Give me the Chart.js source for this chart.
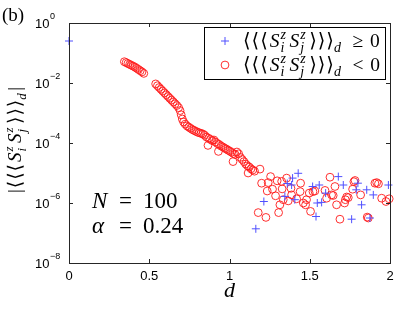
<!DOCTYPE html>
<html>
<head>
<meta charset="utf-8">
<script src="https://cdn.jsdelivr.net/npm/chart.js@4.4.0/dist/chart.umd.min.js"></script>
<style>
html, body { margin: 0; padding: 0; background: #fff; }
canvas { display: block; }
</style>
</head>
<body>
<canvas id="c" width="407" height="318"></canvas>
<script>
// data; the *Log arrays hold log10 of |<<<Sz Sz>>>_d|
const posD   = [0.000, 1.164, 1.214, 1.345, 1.360, 1.387, 1.393, 1.407, 1.428, 1.518, 1.539, 1.547,
                1.559, 1.574, 1.599, 1.678, 1.709, 1.761, 1.790, 1.800, 1.823, 1.855, 1.875, 1.896, 1.990];
const posLog = [-0.60, -6.86, -5.95, -5.78, -5.35, -5.40, -5.17, -5.89, -5.01, -5.45, -6.45, -6.00,
                -5.40, -5.98, -5.67, -5.12, -5.40, -6.54, -5.56, -5.34, -6.06, -5.56, -6.50, -5.73, -5.40];

const negD   = [0.345, 0.356, 0.367, 0.378, 0.389, 0.400, 0.411, 0.422, 0.433, 0.444, 0.455, 0.466,
                0.540, 0.551, 0.562, 0.573, 0.584, 0.595, 0.606, 0.617, 0.628, 0.639, 0.650, 0.661,
                0.672, 0.683, 0.692, 0.699, 0.706, 0.714, 0.724, 0.735, 0.746, 0.757, 0.768, 0.779,
                0.790, 0.801, 0.812, 0.823, 0.834, 0.845, 0.856, 0.866, 0.870, 0.881, 0.892, 0.903,
                0.914, 0.925, 0.931, 0.936, 0.947, 0.958, 0.969, 0.980, 0.991, 1.002, 1.013, 1.022,
                1.024, 1.035, 1.046, 1.057, 1.068, 1.079, 1.090, 1.101, 1.112, 1.116, 1.123, 1.134,
                1.145, 1.156, 1.179, 1.190, 1.200, 1.227, 1.235, 1.241, 1.256, 1.268, 1.287, 1.297,
                1.306, 1.314, 1.325, 1.328, 1.335, 1.356, 1.366, 1.383, 1.387, 1.418, 1.440, 1.443,
                1.460, 1.474, 1.480, 1.497, 1.505, 1.520, 1.532, 1.595, 1.605, 1.626, 1.636, 1.646,
                1.657, 1.667, 1.688, 1.717, 1.722, 1.730, 1.740, 1.767, 1.775, 1.782, 1.817, 1.858,
                1.865, 1.906, 1.917, 1.928, 1.948, 1.975, 1.995];
const negLog = [-1.29, -1.32, -1.35, -1.38, -1.41, -1.44, -1.47, -1.51, -1.55, -1.59, -1.63, -1.68,
                -2.03, -2.09, -2.15, -2.21, -2.27, -2.33, -2.39, -2.45, -2.51, -2.57, -2.63, -2.69,
                -2.75, -2.82, -2.92, -3.06, -3.20, -3.30, -3.37, -3.43, -3.47, -3.51, -3.55, -3.58,
                -3.61, -3.64, -3.66, -3.68, -3.70, -3.74, -3.80, -4.08, -3.84, -3.88, -3.92, -3.90,
                -3.97, -4.02, -4.28, -4.05, -4.10, -4.13, -4.17, -4.20, -4.24, -4.27, -4.31, -4.62,
                -4.35, -4.38, -4.30, -4.36, -4.48, -4.55, -4.62, -4.70, -4.76, -5.00, -4.80, -4.86,
                -4.90, -4.94, -6.32, -4.87, -5.34, -6.48, -5.60, -5.32, -5.12, -5.54, -5.76, -5.26,
                -6.32, -6.06, -5.28, -5.53, -5.89, -5.17, -5.93, -5.51, -5.73, -5.86, -5.62, -5.34,
                -6.00, -6.06, -5.89, -5.67, -6.28, -5.62, -5.60, -5.58, -5.84, -5.14, -5.73, -5.75,
                -5.45, -6.06, -6.54, -6.00, -5.89, -5.80, -5.82, -5.54, -5.29, -5.25, -5.73, -6.47,
                -6.50, -5.34, -5.32, -5.36, -5.84, -5.95, -5.86];

const xTicks = [0, 0.5, 1, 1.5, 2];
const yTickExp = [0, -2, -4, -6, -8];
const legendSigns = ['≥', '<'];
const paramLines = [['N', '100'], ['α', '0.24']];

const toPoints = (ds, logs) => ds.map((d, i) => ({ x: d, y: Math.pow(10, logs[i]) }));

const SERIF = '"Liberation Serif", "DejaVu Serif", serif';
const SANS = '"Liberation Sans", Arial, sans-serif';

// draws a little TeX-ish run: plain/italic text, spaced brackets, stacked sup/sub
const mathRun = (ctx, x, y, items, size) => {
    let cx = x;
    for (const it of items) {
        if (it.gap) { cx += it.gap; continue; }
        if (it.br) {
            ctx.font = size + 'px ' + SERIF;
            for (let n = 0; n < 3; n++) { ctx.fillText(it.br, cx, y); cx += size * 0.44; }
            continue;
        }
        if (it.t !== undefined) {
            ctx.font = (it.i ? 'italic ' : '') + size + 'px ' + SERIF;
            ctx.fillText(it.t, cx, y);
            cx += ctx.measureText(it.t).width + (it.i ? 1 : 0);
        } else {
            const s = Math.round(size * 0.7);
            ctx.font = 'italic ' + s + 'px ' + SERIF;
            let w = 0;
            if (it.sup) { ctx.fillText(it.sup, cx, y - size * 0.42); w = Math.max(w, ctx.measureText(it.sup).width); }
            if (it.sub) { ctx.fillText(it.sub, cx, y + size * 0.28); w = Math.max(w, ctx.measureText(it.sub).width); }
            cx += w + 1.5;
        }
    }
    return cx - x;
};

const corrItems = (pre, post) => {
    const items = [];
    if (pre) items.push({ t: pre }, { gap: 1 });
    items.push({ br: '⟨' }, { gap: 1 }, { t: 'S', i: 1 }, { sup: 'z', sub: 'i' }, { gap: 2 }, { t: 'S', i: 1 },
               { sup: 'z', sub: 'j' }, { gap: 2 }, { br: '⟩' }, { gap: -1 }, { sub: 'd' });
    if (post) items.push(...post);
    return items;
};

const decor = {
    id: 'decor',
    afterDraw(chart) {
        const ctx = chart.ctx;
        const a = chart.chartArea;
        const xs = chart.scales.x, ys = chart.scales.y;
        ctx.save();
        // frame with inside ticks
        ctx.strokeStyle = '#262626';
        ctx.lineWidth = 1;
        ctx.strokeRect(Math.round(a.left) + 0.5, Math.round(a.top) + 0.5,
                       Math.round(a.right - a.left), Math.round(a.bottom - a.top));
        ctx.beginPath();
        for (const v of xTicks) {
            const px = Math.round(xs.getPixelForValue(v)) + 0.5;
            ctx.moveTo(px, a.bottom); ctx.lineTo(px, a.bottom - 4);
            ctx.moveTo(px, a.top); ctx.lineTo(px, a.top + 4);
        }
        for (const e of yTickExp) {
            const py = Math.round(ys.getPixelForValue(Math.pow(10, e))) + 0.5;
            ctx.moveTo(a.left, py); ctx.lineTo(a.left + 4, py);
            ctx.moveTo(a.right, py); ctx.lineTo(a.right - 4, py);
        }
        ctx.stroke();

        // tick labels
        ctx.fillStyle = '#000';
        ctx.textBaseline = 'middle';
        ctx.textAlign = 'center';
        ctx.font = '13px ' + SANS;
        for (const v of xTicks) ctx.fillText(String(v), xs.getPixelForValue(v), a.bottom + 13);
        ctx.textAlign = 'left';
        for (const e of yTickExp) {
            const py = ys.getPixelForValue(Math.pow(10, e));
            ctx.font = '13px ' + SANS;
            ctx.fillText('10', 35, py + 1);
            const w = ctx.measureText('10').width;
            ctx.font = '9px ' + SANS;
            ctx.fillText(e === 0 ? '0' : '−' + Math.abs(e), 35 + w + 0.5, py - 6);
        }

        // axis titles
        ctx.textBaseline = 'alphabetic';
        ctx.font = 'italic 22px ' + SERIF;
        ctx.textAlign = 'center';
        ctx.fillText('d', xs.getPixelForValue(1), 297);
        ctx.textAlign = 'left';
        const yTitle = corrItems('|', [{ gap: 1 }, { t: '|' }]);
        ctx.save();
        ctx.translate(21, 140);
        ctx.rotate(-Math.PI / 2);
        ctx.globalAlpha = 0;
        const tw = mathRun(ctx, 0, 0, yTitle, 19);
        ctx.globalAlpha = 1;
        mathRun(ctx, -tw / 2, 0, yTitle, 19);
        ctx.restore();

        // panel tag
        ctx.font = '19px ' + SERIF;
        ctx.fillText('(b)', 2, 21);

        // N and alpha
        paramLines.forEach((p, k) => {
            const y = 208 + k * 25;
            ctx.font = 'italic 23px ' + SERIF;
            ctx.fillText(p[0], 92, y);
            ctx.font = '23px ' + SERIF;
            ctx.fillText('=', 119, y);
            ctx.fillText(p[1], 143, y);
        });

        // legend box
        ctx.fillStyle = '#fff';
        ctx.fillRect(204, 27, 182, 52);
        ctx.strokeStyle = '#000';
        ctx.lineWidth = 1;
        ctx.strokeRect(204.5, 27.5, 181, 52);
        legendSigns.forEach((s, k) => {
            const y = 41 + k * 24;
            const ds = chart.data.datasets[k];
            ctx.strokeStyle = ds.borderColor;
            ctx.fillStyle = ds.backgroundColor;
            ctx.lineWidth = ds.borderWidth;
            Chart.helpers.drawPoint(ctx, {
                pointStyle: ds.pointStyle, radius: ds.pointRadius, borderWidth: ds.borderWidth, rotation: 0
            }, 225, y);
            ctx.fillStyle = '#000';
            mathRun(ctx, 243, y + 6, corrItems('', [{ gap: 10 }, { t: s }, { gap: 7 }, { t: '0' }]), 19.5);
        });
        ctx.restore();
    }
};

new Chart(document.getElementById('c'), {
    type: 'scatter',
    data: {
        datasets: [
            {
                data: toPoints(posD, posLog),
                pointStyle: 'cross',
                pointRadius: 4,
                borderWidth: 1,
                borderColor: 'rgb(80,80,255)',
                backgroundColor: 'rgb(80,80,255)',
                clip: false
            },
            {
                data: toPoints(negD, negLog),
                pointStyle: 'circle',
                pointRadius: 3.9,
                borderWidth: 0.9,
                borderColor: 'rgb(255,25,25)',
                backgroundColor: 'rgba(0,0,0,0)',
                clip: false
            }
        ]
    },
    options: {
        responsive: false,
        animation: false,
        events: [],
        layout: { padding: { left: 69, top: 23, right: 17, bottom: 55 } },
        plugins: { legend: { display: false }, tooltip: { enabled: false } },
        scales: {
            x: { type: 'linear', min: 0, max: 2, display: false },
            y: { type: 'logarithmic', min: 1e-8, max: 1, display: false }
        }
    },
    plugins: [decor]
});
</script>
</body>
</html>
